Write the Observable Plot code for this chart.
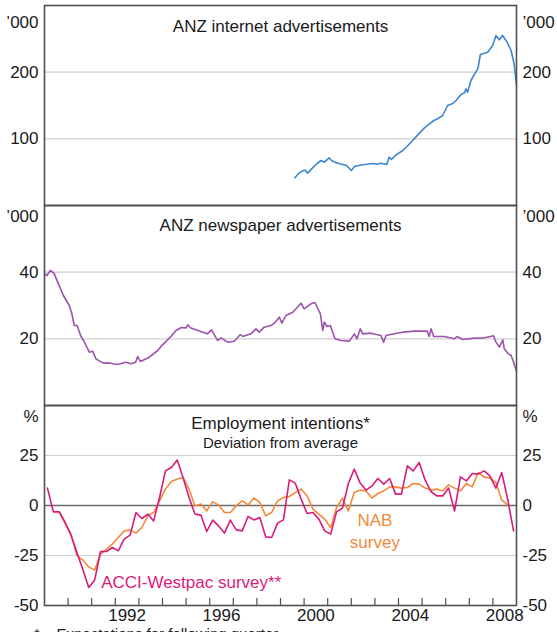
<!DOCTYPE html>
<html>
<head>
<meta charset="utf-8">
<script src="https://cdn.jsdelivr.net/npm/d3@7"></script>
<script src="https://cdn.jsdelivr.net/npm/@observablehq/plot@0.6"></script>
<style>
  html, body { margin: 0; padding: 0; background: #fff; }
  #wrap { position: relative; width: 557px; height: 632px; overflow: hidden; background: #fff; font-family: "Liberation Sans", Arial, sans-serif; }
  #wrap svg { position: absolute; left: 0; }
  #foot { position: absolute; left: 34px; top: 625px; font-size: 15px; color: #222; white-space: pre; }
</style>
</head>
<body>
<div id="wrap"></div>
<script>
// ---------- DATA ----------
// ANZ internet advertisements ('000), monthly readings
const internetYears = [1999.61,1999.8,1999.93,2000.05,2000.15,2000.35,2000.55,2000.72,2000.86,2001.06,2001.17,2001.36,2001.6,2001.8,2002.0,2002.15,2002.5,2002.9,2003.1,2003.26,2003.5,2003.6,2003.7,2003.9,2004.18,2004.4,2004.6,2004.85,2005.1,2005.3,2005.5,2005.7,2005.87,2006.08,2006.3,2006.44,2006.65,2006.8,2006.86,2006.93,2007.07,2007.2,2007.36,2007.47,2007.78,2007.99,2008.13,2008.27,2008.41,2008.6,2008.77,2008.9,2009.0];
const internetValues = [41.5,49,52,53,48.5,56,63,67.5,65,71.5,67,64,62,60,52.5,59,61,63,62,63.5,61.5,72.5,69,76,82.5,90,97.5,107,116.5,122,127.5,131,135,150,153,157.5,166.5,169,175,170,187.5,196,205,226.5,230,240,255,248.5,255,245,232.5,212.5,180];

// ANZ newspaper advertisements ('000), monthly readings
const newsYears = [1989.0,1989.1,1989.25,1989.4,1989.56,1989.8,1990.05,1990.16,1990.26,1990.38,1990.53,1990.69,1990.9,1991.04,1991.18,1991.47,1991.8,1992.1,1992.45,1992.66,1992.86,1992.95,1993.06,1993.44,1993.8,1994.0,1994.36,1994.57,1994.8,1995.0,1995.07,1995.18,1995.5,1995.9,1996.08,1996.27,1996.34,1996.48,1996.76,1997.04,1997.3,1997.4,1997.75,1997.96,1998.1,1998.31,1998.6,1998.74,1998.95,1999.06,1999.23,1999.52,1999.87,2000.0,2000.29,2000.46,2000.69,2000.79,2000.86,2000.97,2001.11,2001.31,2001.56,2001.92,2002.13,2002.24,2002.38,2002.48,2002.83,2003.26,2003.37,2003.47,2003.82,2004.18,2004.67,2005.21,2005.3,2005.38,2005.49,2005.94,2006.36,2006.48,2006.72,2007.21,2007.64,2008.03,2008.13,2008.27,2008.42,2008.48,2008.65,2008.77,2008.88,2009.0];
const newsValues = [39.5,39,40.5,39.7,37,33,30,27.5,24,24,21,19,16,16.3,14,12.8,12.7,12.3,13,12.5,13,14.7,13.2,14.5,16.5,18.2,20.7,22.5,23.4,23.3,24.2,23.3,22.5,21.5,22.7,20.3,19.5,20.3,19,19.3,21.3,20.7,21.5,23,22,23.5,24,24.7,26.5,24.7,27,28,30.7,29,30.5,30.9,27.5,22.5,25,23.7,24,20,19.5,19.3,21.5,20,23,21.5,21.7,21,19,21,21.5,22,22.3,22.3,20.7,23,20.7,20.7,20,20.7,19.8,20.2,20.3,20.9,19,17.5,19.7,17,15.5,15,13,10.3];

// Employment intentions, deviation from average (%), quarterly from 1989 Q1
const firstQuarterYear = 1989;
const acciValues = [8.7,-3.2,-3.2,-8.5, -15,-23.5,-32,-41, -37.3,-23,-23,-21, -22.7,-16.8,-14.8,-3.5, -6.5,-4.3,-7.7,4, 17.3,19,22.7,13.7, 4,-4.3,-4.8,-13, -7.3,-10.2,-13.8,-7.3, -12.2,-12.7,-5.5,-7.2, -6,-15.7,-16,-8.8, -7.2,12.8,11.2,3.2, -4,-3.5,-6.8,-12.7, -14.3,-3.2,-1.3,11, 18.2,11.2,7.7,9.8, 13.5,10.7,13.5,5.7, 5.7,19.8,17.3,21.5, 12.8,7,4.8,4.8, 8.7,-2.7,14.3,12.3, 16,15.7,17.3,14.8, 8.7,16.5,3.2,-12.7];
const nabValues = [null,null,-3.2,-9, -14.3,-25.2,-27.3,-30.7, -32.3,-24.3,-21.8,-19.3, -16,-12.7,-12.3,-13.8, -11,-5.2,-3.5,2.3, 8.2,12,13.2,14, 8.2,-0.2,0.7,-2.7, 1.8,0.3,-3.5,-3.5, -0.2,2.3,0.3,3.7, 1.5,-5.2,-3.5,2.3, 4,4.5,6.5,8.2, 4.8,-1.8,-4.3,-6.8, -11,-1,3.7,-2.7, 6.5,7.7,7.3,3.7, 6,7.3,9.3,9.3, 8.7,9,11,10.7, 8.7,7.7,8.2,7.3, 10.3,8.7,7.3,11, 9.3,16.5,14.3,13.7, 11.5,2.7,0.3,null];

// Axis labels
const xDomain = [1989, 2009];
const yearTicks = d3.range(1990, 2009);
const yearLabels = [1992, 1996, 2000, 2004, 2008];
const internetTicks = [100, 200];
const newsTicks = [20, 40];
const empTicks = [25, 0, -25];

// ---------- BUILD ----------
const FONT = "Liberation Sans, Arial, sans-serif";
const INK = "#1a1a1a";
const FRAME = "#505050";
const GRID = "#cfcfcf";
const ML = 44, MR = 41, W = 557;

const quarterX = (i) => firstQuarterYear + i * 0.25 + 0.125;
const internet = internetYears.map((x, i) => ({x, y: internetValues[i]}));
const news = newsYears.map((x, i) => ({x, y: newsValues[i]}));
const acci = acciValues.map((y, i) => ({x: quarterX(i), y}));
const nab = nabValues.map((y, i) => ({x: quarterX(i), y}));

function tickLabels(ticks, fmt) {
  return [
    Plot.text(ticks, {y: d => d, text: fmt, frameAnchor: "left", textAnchor: "end", dx: -6, fontSize: 17, fill: INK}),
    Plot.text(ticks, {y: d => d, text: fmt, frameAnchor: "right", textAnchor: "start", dx: 6, fontSize: 17, fill: INK})
  ];
}

function panel({top, height, mt, mb, yDomain, marks}) {
  const svg = Plot.plot({
    width: W, height, marginLeft: ML, marginRight: MR, marginTop: mt, marginBottom: mb,
    style: {background: "transparent", overflow: "visible", fontFamily: FONT},
    x: {domain: xDomain, axis: null},
    y: {domain: yDomain, axis: null},
    marks
  });
  svg.style.top = top + "px";
  document.getElementById("wrap").appendChild(svg);
}

// Panel 1: internet
panel({
  top: 0, height: 215, mt: 5, mb: 10, yDomain: [0, 300],
  marks: [
    Plot.ruleY(internetTicks, {stroke: GRID, strokeWidth: 1.2}),
    Plot.line(internet, {x: "x", y: "y", stroke: "#3b86cf", strokeWidth: 1.6}),
    Plot.frame({stroke: FRAME, strokeWidth: 1.6}),
    ...tickLabels(internetTicks, d => String(d)),
    Plot.text(["’000"], {frameAnchor: "top-left", textAnchor: "end", dx: -6, dy: 10, fontSize: 17, fill: INK}),
    Plot.text(["’000"], {frameAnchor: "top-right", textAnchor: "start", dx: 6, dy: 10, fontSize: 17, fill: INK}),
    Plot.text(["ANZ internet advertisements"], {frameAnchor: "top", dy: 14, fontSize: 17, fill: INK})
  ]
});

// Panel 2: newspaper
panel({
  top: 195, height: 220, mt: 10, mb: 10, yDomain: [0, 60],
  marks: [
    Plot.ruleY(newsTicks, {stroke: GRID, strokeWidth: 1.2}),
    Plot.line(news, {x: "x", y: "y", stroke: "#9d52ad", strokeWidth: 1.6}),
    Plot.frame({stroke: FRAME, strokeWidth: 1.6}),
    ...tickLabels(newsTicks, d => String(d)),
    Plot.text(["’000"], {frameAnchor: "top-left", textAnchor: "end", dx: -6, dy: 4, fontSize: 17, fill: INK}),
    Plot.text(["’000"], {frameAnchor: "top-right", textAnchor: "start", dx: 6, dy: 4, fontSize: 17, fill: INK}),
    Plot.text(["ANZ newspaper advertisements"], {frameAnchor: "top", dy: 13, fontSize: 17, fill: INK})
  ]
});

// Panel 3: employment intentions
panel({
  top: 395, height: 237, mt: 10, mb: 27, yDomain: [-50, 50],
  marks: [
    Plot.ruleY([25, -25], {stroke: GRID, strokeWidth: 1.2}),
    Plot.ruleY([0], {stroke: "#6a6a6a", strokeWidth: 1.6}),
    Plot.line(nab, {x: "x", y: "y", stroke: "#f28a3a", strokeWidth: 1.6}),
    Plot.line(acci, {x: "x", y: "y", stroke: "#d81b7c", strokeWidth: 1.6}),
    Plot.ruleX(yearTicks, {y1: -50, y2: -46.5, stroke: FRAME, strokeWidth: 1.2}),
    Plot.frame({stroke: FRAME, strokeWidth: 1.6}),
    ...tickLabels(empTicks.concat([-50]), d => String(d)),
    Plot.text(["%"], {frameAnchor: "top-left", textAnchor: "end", dx: -6, dy: 4, fontSize: 17, fill: INK}),
    Plot.text(["%"], {frameAnchor: "top-right", textAnchor: "start", dx: 6, dy: 4, fontSize: 17, fill: INK}),
    Plot.text(yearLabels, {x: d => d + 0.5, frameAnchor: "bottom", dy: 15, text: d => String(d), fontSize: 17, fill: INK}),
    Plot.text(["Employment intentions*"], {frameAnchor: "top", dy: 11, fontSize: 17, fill: INK}),
    Plot.text(["Deviation from average"], {frameAnchor: "top", dy: 32, fontSize: 15, fill: INK}),
    Plot.text(["ACCI-Westpac survey**"], {x: 1991.4, y: -38.5, textAnchor: "start", fontSize: 17, fill: "#d81b7c"}),
    Plot.text(["NAB", "survey"], {x: 2003.0, y: (d, i) => [-7.5, -18.5][i], fontSize: 17, fill: "#f28a3a"})
  ]
});

const foot = document.createElement("div");
foot.id = "foot";
foot.textContent = "*    Expectations for following quarter";
document.getElementById("wrap").appendChild(foot);
</script>
</body>
</html>
